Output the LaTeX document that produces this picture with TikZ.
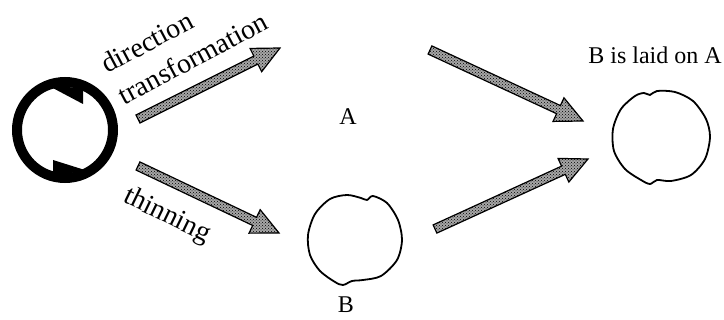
\documentclass[tikz,border=0pt]{standalone}
\usepackage{fontspec}
\setmainfont{Liberation Serif}
\usepackage{tikz}
\usetikzlibrary{calc, patterns}

% shaded broad arrow from #1 to #2
\newcommand{\fatarrow}[2]{%
  \coordinate (fa-h) at ($(#2)!27pt!(#1)$);
  \filldraw[fatarrow] ($(#1)!4.5pt!90:(#2)$) -- ($(fa-h)!4.5pt!90:(#2)$)
    -- ($(fa-h)!13pt!90:(#2)$) -- (#2) -- ($(fa-h)!13pt!-90:(#2)$)
    -- ($(fa-h)!4.5pt!-90:(#2)$) -- ($(#1)!4.5pt!-90:(#2)$) -- cycle;
}

\tikzset{
  lbl/.style={font=\fontsize{24}{28}\selectfont, inner sep=0pt},
  tilted/.style={font=\fontsize{28}{32}\selectfont, inner sep=0pt},
  ring/.style={circle, draw, line width=10pt, minimum size=96pt, inner sep=0pt},
  blobline/.style={line width=1.8pt, line join=round},
  fatarrow/.style={draw=black, line width=1.2pt, line join=miter,
    preaction={fill=gray!70}, pattern=crosshatch dots, pattern color=black}
}

\begin{document}
\begin{tikzpicture}[x=1pt, y=-1pt]
  \useasboundingbox (0,0) rectangle (724,320);

  % rotating source ring
  \node[ring] (src) at (65,130) {};
  \fill[shift={(src)}] (-16,-44) -- (18,-42) -- (18,-26) -- cycle;
  \fill[shift={(src)}] (-12,30) -- (-12,45) -- (23,41) -- cycle;

  % labels
  \node[tilted, rotate=28] (dir) at (147,42) {direction};
  \node[tilted, rotate=28] (trf) at (193,58) {transformation};
  \node[tilted, rotate=-26] (thn) at (167,216) {thinning};
  \node[lbl] (labA) at (348,117) {A};
  \node[lbl] (labB) at (346,305) {B};
  \node[lbl] (labAB) at (655,55) {B is laid on A};

  % thinned circles
  \coordinate (B) at (355,240);
  \coordinate (AB) at (661,137);
  \draw[blobline, shift={(B)}] plot[smooth cycle, tension=0.5] coordinates {
    (47,0) (42,20) (26,36) (8,40) (-3,41) (-12,45) (-20,42) (-35,31)
    (-45,15) (-47,-5) (-40,-26) (-25,-41) (-8,-45) (6,-42) (12,-40)
    (18,-44) (32,-37) (43,-20)};
  \draw[blobline, shift={(AB)}] plot[smooth cycle, tension=0.5] coordinates {
    (49,0) (44,22) (30,38) (10,44) (-4,43) (-11,47) (-20,43) (-36,32)
    (-47,14) (-48,-8) (-40,-28) (-26,-41) (-17,-44) (-11,-42) (-4,-46)
    (14,-45) (32,-36) (45,-18)};

  % arrow ends
  \coordinate (t1) at (138,119);
  \coordinate (h1) at (280,48);
  \coordinate (t2) at (138,166);
  \coordinate (h2) at (279,233);
  \coordinate (t3) at (430,50);
  \coordinate (h3) at (583,121);
  \coordinate (t4) at (435,229);
  \coordinate (h4) at (588,159);

  \fatarrow{t1}{h1}
  \fatarrow{t2}{h2}
  \fatarrow{t3}{h3}
  \fatarrow{t4}{h4}
\end{tikzpicture}
\end{document}
